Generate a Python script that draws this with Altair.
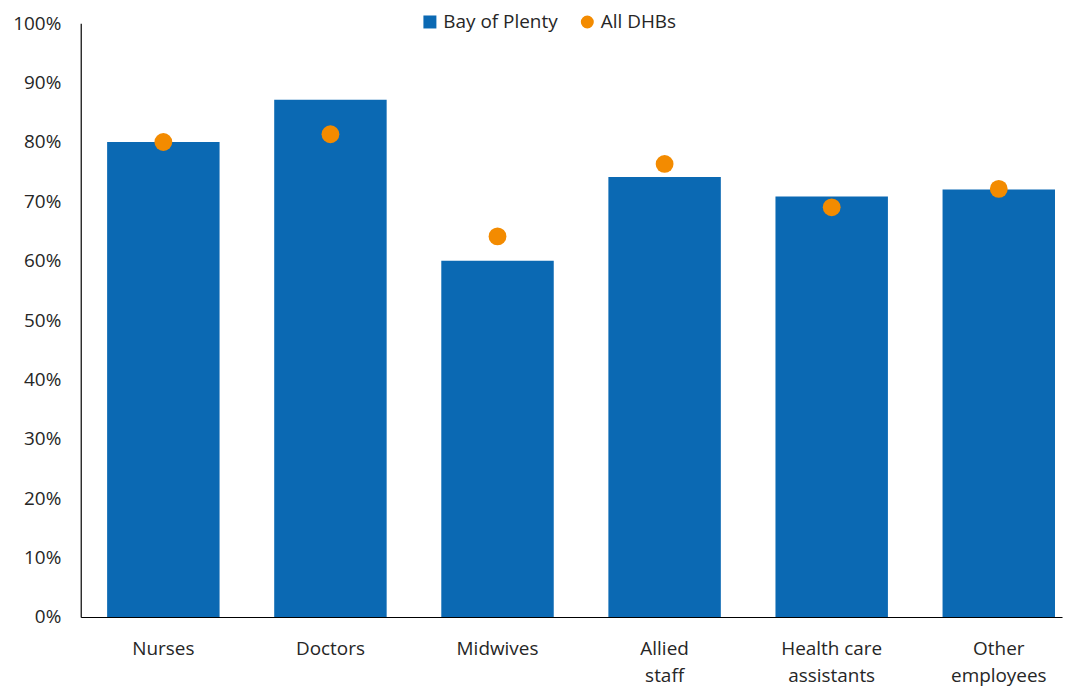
import altair as alt
import pandas as pd

categories = ["Nurses", "Doctors", "Midwives", "Allied\nstaff", "Health care\nassistants", "Other\nemployees"]
bay_of_plenty = [0.80, 0.871, 0.60, 0.741, 0.708, 0.72]
all_dhbs = [0.80, 0.813, 0.641, 0.763, 0.69, 0.721]
series_names = ["Bay of Plenty", "All DHBs"]
y_ticks = [i / 10 for i in range(11)]

rows = []
for c, b, a in zip(categories, bay_of_plenty, all_dhbs):
    rows.append({"category": c, "series": series_names[0], "value": b})
    rows.append({"category": c, "series": series_names[1], "value": a})
df = pd.DataFrame(rows)

FONT = "Open Sans"
TXT = "#262626"
BLUE = "#0B69B3"
ORANGE = "#F38B00"

legend_cfg = dict(
    title=None, orient="none", direction="horizontal",
    legendX=341, legendY=-11,
    labelFont=FONT, labelFontSize=19, labelColor=TXT,
    symbolSize=170, symbolStrokeWidth=0, columnPadding=20, labelOffset=4,
)
color = alt.Color(
    "series:N",
    scale=alt.Scale(domain=series_names, range=[BLUE, ORANGE]),
    legend=alt.Legend(**legend_cfg),
)
shape = alt.Shape(
    "series:N",
    scale=alt.Scale(domain=series_names, range=["square", "circle"]),
    legend=alt.Legend(**legend_cfg),
)

x = alt.X(
    "category:N", sort=categories, title=None,
    scale=alt.Scale(paddingInner=0.327, paddingOuter=0.1, align=0.79),
    axis=alt.Axis(labelAngle=0, labelExpr="split(datum.label, '\\n')",
                  labelFont=FONT, labelFontSize=19, labelColor=TXT,
                  labelPadding=23, labelLineHeight=27, ticks=False, tickSize=0,
                  domainColor="#000000", domainWidth=1.2),
)
y = alt.Y(
    "value:Q", title=None,
    scale=alt.Scale(domain=[0, 1], nice=False),
    axis=alt.Axis(values=y_ticks, format=".0%", grid=False, ticks=False, tickSize=0,
                  labelFont=FONT, labelFontSize=19, labelColor=TXT, labelPadding=20,
                  domainColor="#000000", domainWidth=1.2),
)

bars = alt.Chart(df).transform_filter(alt.datum.series == series_names[0]).mark_bar().encode(
    x=x, y=y, color=color
)
points = alt.Chart(df).transform_filter(alt.datum.series == series_names[1]).mark_point(
    filled=True, size=320, opacity=1
).encode(x=x, y=y, color=color, shape=shape)

chart = alt.layer(bars, points).properties(
    width=985, height=596,
    autosize=alt.AutoSizeParams(type="none"),
    padding={"left": 73, "top": 14, "right": 5, "bottom": 71},
).configure_view(stroke=None)

chart.save("out.html", embed_options={"renderer": "svg", "actions": False})
